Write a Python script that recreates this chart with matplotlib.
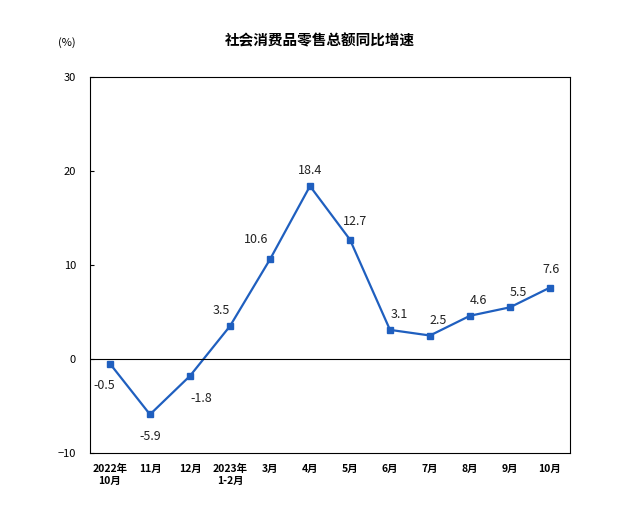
import matplotlib.pyplot as plt

plt.rcParams["font.family"] = ["Noto Sans CJK SC"]

months = ["2022年\n10月", "11月", "12月", "2023年\n1-2月", "3月", "4月", "5月",
          "6月", "7月", "8月", "9月", "10月"]
growth = [-0.5, -5.9, -1.8, 3.5, 10.6, 18.4, 12.7, 3.1, 2.5, 4.6, 5.5, 7.6]
# label offsets in points (dx, dy)
offsets = [(-4, -16), (0, -16), (8, -16), (-6, 11), (-10, 14), (0, 11), (4, 13),
           (7, 11), (6, 11), (6, 11), (6, 11), (1, 13)]

fig = plt.figure(figsize=(6.4, 5.08), dpi=100)
ax = fig.add_axes([0.1406, 0.1083, 0.75, 0.740])
x = range(len(months))
ax.plot(x, growth, color="#1f5fbf", lw=1.6, marker="s", ms=4.5)
for xi, v, (dx, dy) in zip(x, growth, offsets):
    ax.annotate(f"{v}", (xi, v), xytext=(dx, dy), textcoords="offset points",
                ha="center", va="center", fontsize=9, color="#222222")
ax.axhline(0, color="black", lw=0.8)
ax.set_xlim(-0.5, len(months) - 0.5)
ax.set_ylim(-10, 30)
ax.set_yticks([-10, 0, 10, 20, 30])
ax.tick_params(axis="y", labelsize=8, direction="in", length=3, pad=10)
ax.set_xticks(list(x))
ax.set_xticklabels(months, fontsize=7.5, fontweight="bold")
ax.tick_params(axis="x", length=0, pad=8)
for s in ax.spines.values():
    s.set_linewidth(0.8)
fig.text(0.5, 0.91, "社会消费品零售总额同比增速", ha="center", fontsize=10.5, fontweight="bold")
fig.text(0.105, 0.91, "(%)", ha="center", fontsize=8)
fig.savefig("out.png", dpi=100)
